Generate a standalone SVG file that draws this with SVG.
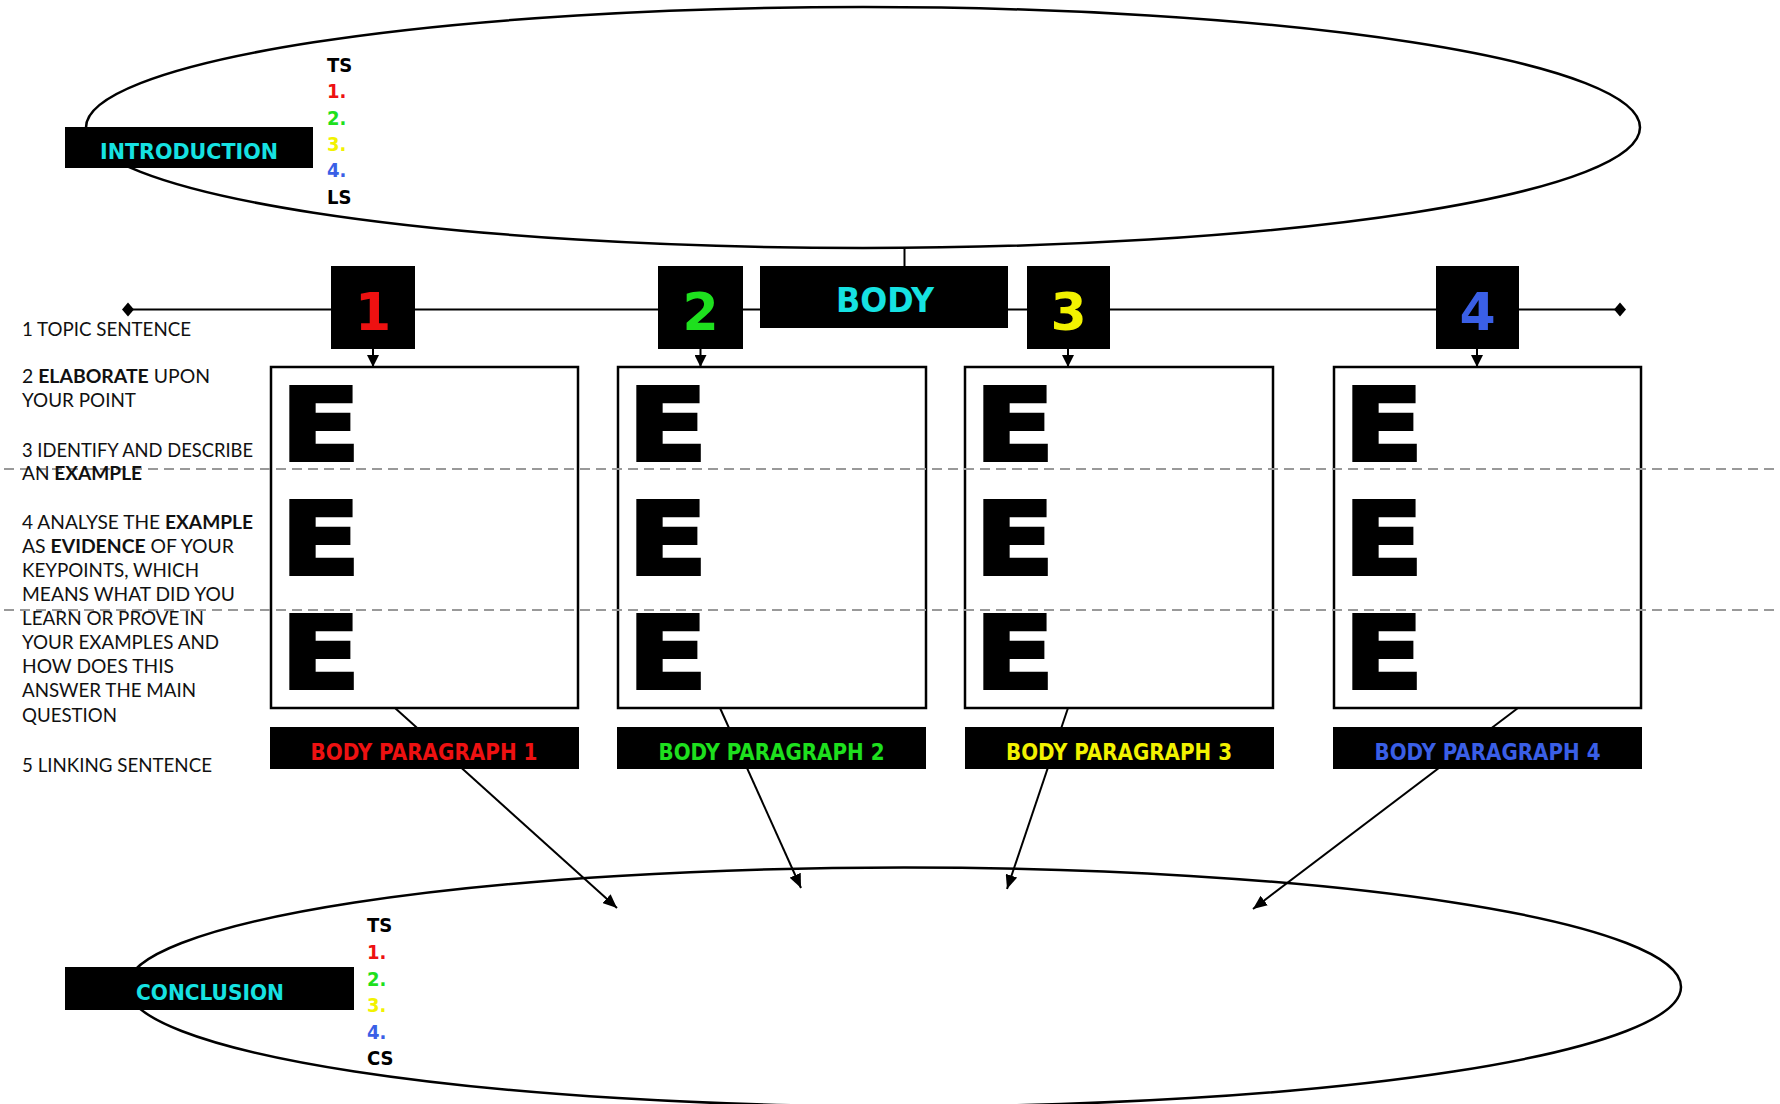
<svg xmlns="http://www.w3.org/2000/svg" width="1780" height="1104" viewBox="0 0 1780 1104">
<style>
.bg{fill:#ffffff}
.ell{fill:none;stroke:#000;stroke-width:2.5}
.blk{fill:#000}
.ebox{fill:#fff;stroke:#000;stroke-width:2.5}
.conn{stroke:#000;stroke-width:2;fill:none}
.dash{stroke:#999;stroke-width:2;stroke-dasharray:10 6;fill:none}
.lbl{font-family:"DejaVu Sans Condensed","DejaVu Sans",sans-serif;font-weight:bold}
.num{font-family:"DejaVu Sans","Liberation Sans",sans-serif;font-weight:bold;font-size:52px;text-anchor:middle}
.big{font-family:"DejaVu Sans","Liberation Sans",sans-serif;font-weight:bold;font-size:100px;fill:#000;stroke:#000;stroke-width:4}
.side{font-family:Lato,"Noto Sans",sans-serif;font-size:19.5px;fill:#111}
.side tspan.b{font-weight:bold}
.list{font-family:"DejaVu Sans Condensed","DejaVu Sans",sans-serif;font-weight:bold;font-size:20px}
.cy{fill:#16e2e2}
.red{fill:#ee1111}
.grn{fill:#1ee01e}
.yel{fill:#f2f200}
.blu{fill:#3a5fe6}
.k{fill:#000}
</style>
<defs>
<marker id="arr" viewBox="0 0 14 12" refX="14" refY="6" markerWidth="14" markerHeight="12" orient="auto" markerUnits="userSpaceOnUse">
<path d="M0,0 L14,6 L0,12 z" fill="#000"/>
</marker>
<marker id="arrs" viewBox="0 0 12 12" refX="12" refY="6" markerWidth="12" markerHeight="12" orient="auto" markerUnits="userSpaceOnUse">
<path d="M0,0 L12,6 L0,12 z" fill="#000"/>
</marker>
</defs>
<rect class="bg" x="0" y="0" width="1780" height="1104"/>

<g id="introduction-ellipse">
<ellipse class="ell" cx="863" cy="127.5" rx="777" ry="120.5"/>
</g>
<g id="conclusion-ellipse">
<ellipse class="ell" cx="904" cy="987" rx="777" ry="119.5"/>
</g>

<g id="connectors">
<line class="conn" x1="904.5" y1="248" x2="904.5" y2="266"/>
<line class="conn" x1="128" y1="309.5" x2="1620" y2="309.5"/>
<path d="M128,302.5 L134,309.5 L128,316.5 L122,309.5 z" fill="#000"/>
<path d="M1620,302.5 L1626,309.5 L1620,316.5 L1614,309.5 z" fill="#000"/>
<line class="conn" x1="373" y1="349" x2="373" y2="367" marker-end="url(#arrs)"/>
<line class="conn" x1="700.5" y1="349" x2="700.5" y2="367" marker-end="url(#arrs)"/>
<line class="conn" x1="1068" y1="349" x2="1068" y2="367" marker-end="url(#arrs)"/>
<line class="conn" x1="1477" y1="349" x2="1477" y2="367" marker-end="url(#arrs)"/>
<line class="conn" x1="395" y1="708" x2="617" y2="908" marker-end="url(#arr)"/>
<line class="conn" x1="720" y1="708" x2="801" y2="888" marker-end="url(#arr)"/>
<line class="conn" x1="1068" y1="708" x2="1007" y2="889" marker-end="url(#arr)"/>
<line class="conn" x1="1518" y1="708" x2="1253" y2="909" marker-end="url(#arr)"/>
</g>

<g id="introduction">
<rect class="blk" x="65" y="127" width="248" height="41"/>
<text class="lbl cy" x="189" y="159" font-size="22" text-anchor="middle" textLength="178" lengthAdjust="spacingAndGlyphs">INTRODUCTION</text>
<text class="list k" x="327" y="72">TS</text>
<text class="list red" x="327" y="98">1.</text>
<text class="list grn" x="327" y="125">2.</text>
<text class="list yel" x="327" y="151">3.</text>
<text class="list blu" x="327" y="177">4.</text>
<text class="list k" x="327" y="204">LS</text>
</g>

<g id="body">
<rect class="blk" x="760" y="266" width="248" height="62"/>
<text class="lbl cy" x="885" y="312" font-size="34" text-anchor="middle" textLength="98" lengthAdjust="spacingAndGlyphs">BODY</text>
</g>

<g id="num-1"><rect class="blk" x="331" y="266" width="84" height="83"/><text class="num red" x="373" y="330">1</text></g>
<g id="num-2"><rect class="blk" x="658" y="266" width="85" height="83"/><text class="num grn" x="700.5" y="330">2</text></g>
<g id="num-3"><rect class="blk" x="1027" y="266" width="83" height="83"/><text class="num yel" x="1068.5" y="330">3</text></g>
<g id="num-4"><rect class="blk" x="1436" y="266" width="83" height="83"/><text class="num blu" x="1477.5" y="330">4</text></g>

<g id="ebox-1">
<rect class="ebox" x="271" y="367" width="307" height="341"/>
<text class="big" x="281" y="460" textLength="79" lengthAdjust="spacingAndGlyphs">E</text>
<text class="big" x="281" y="574" textLength="79" lengthAdjust="spacingAndGlyphs">E</text>
<text class="big" x="281" y="688" textLength="79" lengthAdjust="spacingAndGlyphs">E</text>
</g>
<g id="ebox-2">
<rect class="ebox" x="618" y="367" width="308" height="341"/>
<text class="big" x="628" y="460" textLength="79" lengthAdjust="spacingAndGlyphs">E</text>
<text class="big" x="628" y="574" textLength="79" lengthAdjust="spacingAndGlyphs">E</text>
<text class="big" x="628" y="688" textLength="79" lengthAdjust="spacingAndGlyphs">E</text>
</g>
<g id="ebox-3">
<rect class="ebox" x="965" y="367" width="308" height="341"/>
<text class="big" x="975" y="460" textLength="79" lengthAdjust="spacingAndGlyphs">E</text>
<text class="big" x="975" y="574" textLength="79" lengthAdjust="spacingAndGlyphs">E</text>
<text class="big" x="975" y="688" textLength="79" lengthAdjust="spacingAndGlyphs">E</text>
</g>
<g id="ebox-4">
<rect class="ebox" x="1334" y="367" width="307" height="341"/>
<text class="big" x="1344" y="460" textLength="79" lengthAdjust="spacingAndGlyphs">E</text>
<text class="big" x="1344" y="574" textLength="79" lengthAdjust="spacingAndGlyphs">E</text>
<text class="big" x="1344" y="688" textLength="79" lengthAdjust="spacingAndGlyphs">E</text>
</g>

<g id="guides">
<line class="dash" x1="4" y1="469" x2="1780" y2="469"/>
<line class="dash" x1="4" y1="610" x2="1780" y2="610"/>
</g>

<g id="para-1"><rect class="blk" x="270" y="727" width="309" height="42"/><text class="lbl red" x="424" y="760" font-size="23" text-anchor="middle" textLength="227" lengthAdjust="spacingAndGlyphs">BODY PARAGRAPH 1</text></g>
<g id="para-2"><rect class="blk" x="617" y="727" width="309" height="42"/><text class="lbl grn" x="771.5" y="760" font-size="23" text-anchor="middle" textLength="226" lengthAdjust="spacingAndGlyphs">BODY PARAGRAPH 2</text></g>
<g id="para-3"><rect class="blk" x="965" y="727" width="309" height="42"/><text class="lbl yel" x="1119" y="760" font-size="23" text-anchor="middle" textLength="226" lengthAdjust="spacingAndGlyphs">BODY PARAGRAPH 3</text></g>
<g id="para-4"><rect class="blk" x="1333" y="727" width="309" height="42"/><text class="lbl blu" x="1487.5" y="760" font-size="23" text-anchor="middle" textLength="226" lengthAdjust="spacingAndGlyphs">BODY PARAGRAPH 4</text></g>

<g id="conclusion">
<rect class="blk" x="65" y="967" width="289" height="43"/>
<text class="lbl cy" x="210" y="1000" font-size="22" text-anchor="middle" textLength="148" lengthAdjust="spacingAndGlyphs">CONCLUSION</text>
<text class="list k" x="367" y="932">TS</text>
<text class="list red" x="367" y="959">1.</text>
<text class="list grn" x="367" y="986">2.</text>
<text class="list yel" x="367" y="1012">3.</text>
<text class="list blu" x="367" y="1039">4.</text>
<text class="list k" x="367" y="1065">CS</text>
</g>

<g id="steps">
<text class="side" x="22" y="336" textLength="169" lengthAdjust="spacingAndGlyphs">1 TOPIC SENTENCE</text>
<text class="side" x="22" y="383" textLength="188" lengthAdjust="spacingAndGlyphs">2 <tspan class="b">ELABORATE</tspan> UPON</text>
<text class="side" x="22" y="407" textLength="114" lengthAdjust="spacingAndGlyphs">YOUR POINT</text>
<text class="side" x="22" y="457" textLength="231" lengthAdjust="spacingAndGlyphs">3 IDENTIFY AND DESCRIBE</text>
<text class="side" x="22" y="480" textLength="120" lengthAdjust="spacingAndGlyphs">AN <tspan class="b">EXAMPLE</tspan></text>
<text class="side" x="22" y="529" textLength="231" lengthAdjust="spacingAndGlyphs">4 ANALYSE THE <tspan class="b">EXAMPLE</tspan></text>
<text class="side" x="22" y="553" textLength="212" lengthAdjust="spacingAndGlyphs">AS <tspan class="b">EVIDENCE</tspan> OF YOUR</text>
<text class="side" x="22" y="577" textLength="177" lengthAdjust="spacingAndGlyphs">KEYPOINTS, WHICH</text>
<text class="side" x="22" y="601" textLength="213" lengthAdjust="spacingAndGlyphs">MEANS WHAT DID YOU</text>
<text class="side" x="22" y="625" textLength="182" lengthAdjust="spacingAndGlyphs">LEARN OR PROVE IN</text>
<text class="side" x="22" y="649" textLength="197" lengthAdjust="spacingAndGlyphs">YOUR EXAMPLES AND</text>
<text class="side" x="22" y="673" textLength="152" lengthAdjust="spacingAndGlyphs">HOW DOES THIS</text>
<text class="side" x="22" y="697" textLength="174" lengthAdjust="spacingAndGlyphs">ANSWER THE MAIN</text>
<text class="side" x="22" y="722" textLength="95" lengthAdjust="spacingAndGlyphs">QUESTION</text>
<text class="side" x="22" y="772" textLength="190" lengthAdjust="spacingAndGlyphs">5 LINKING SENTENCE</text>
</g>
</svg>
